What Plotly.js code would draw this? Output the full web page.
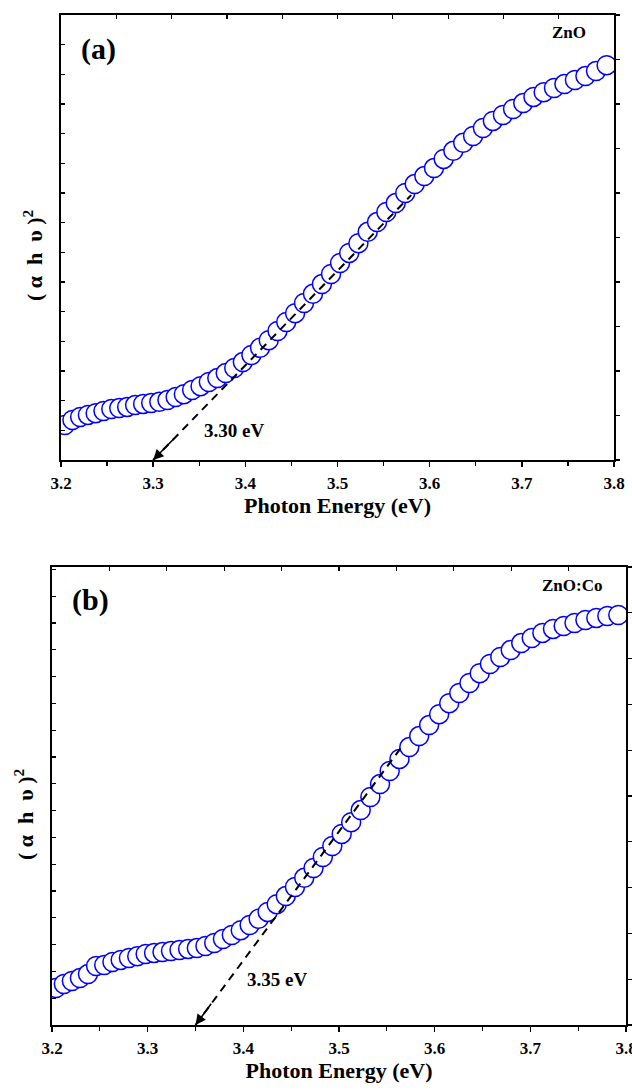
<!DOCTYPE html>
<html>
<head>
<meta charset="utf-8">
<script src="https://cdn.plot.ly/plotly-3.0.1.min.js"></script>
<style>
  html, body { margin: 0; padding: 0; background: #ffffff; }
  #chart { width: 632px; height: 1090px; }
</style>
</head>
<body>
<div id="chart"></div>
<script>
// ---- data ----
const photonEnergy = [3.2041,3.2124,3.2208,3.2292,3.2376,3.2461,3.2546,3.2632,3.2718,3.2804,
  3.2891,3.2979,3.3067,3.3155,3.3244,3.3333,3.3423,3.3514,3.3604,3.3696,
  3.3787,3.3880,3.3973,3.4066,3.4160,3.4254,3.4349,3.4444,3.4540,3.4637,
  3.4734,3.4831,3.4930,3.5028,3.5127,3.5227,3.5328,3.5429,3.5530,3.5632,
  3.5735,3.5838,3.5942,3.6047,3.6152,3.6257,3.6364,3.6471,3.6578,3.6686,
  3.6795,3.6905,3.7015,3.7126,3.7237,3.7349,3.7462,3.7576,3.7690,3.7805,
  3.7920];

const zno = [1.18,1.35,1.45,1.52,1.58,1.65,1.72,1.75,1.79,1.85,
  1.89,1.92,1.96,2.02,2.12,2.22,2.36,2.49,2.63,2.76,
  2.93,3.10,3.30,3.54,3.78,4.04,4.35,4.65,4.95,5.29,
  5.60,5.93,6.27,6.64,6.98,7.31,7.69,8.02,8.36,8.66,
  9.00,9.30,9.57,9.84,10.15,10.42,10.69,10.92,11.19,11.43,
  11.63,11.83,12.03,12.24,12.40,12.54,12.67,12.81,12.94,13.11,
  13.31];

const znoCo = [1.38,1.53,1.64,1.75,1.90,2.20,2.24,2.35,2.43,2.50,
  2.57,2.65,2.69,2.72,2.76,2.80,2.84,2.87,2.95,3.06,
  3.21,3.36,3.54,3.73,3.96,4.22,4.51,4.81,5.15,5.49,
  5.86,6.27,6.68,7.13,7.57,8.02,8.51,8.99,9.48,9.93,
  10.37,10.78,11.19,11.60,12.01,12.39,12.76,13.13,13.47,13.73,
  13.99,14.25,14.44,14.63,14.78,14.89,15.00,15.11,15.19,15.26,
  15.30];

const bandGap = [3.30, 3.35];
const bandGapLabels = ["3.30 eV", "3.35 eV"];
const sampleNames = ["ZnO", "ZnO:Co"];
const panelLetters = ["(a)", "(b)"];

const tangentZnO_x = [3.30, 3.58];
const tangentZnO_y = [0, 8.93];
const tangentCo_x = [3.35, 3.567];
const tangentCo_y = [0, 10.45];

const xTickVals = [3.2, 3.3, 3.4, 3.5, 3.6, 3.7, 3.8];
const xTickText = ["3.2", "3.3", "3.4", "3.5", "3.6", "3.7", "3.8"];

// ---- layout helpers ----
const W = 632, H = 1090;
const px = v => v / W;
const py = v => 1 - v / H;
const FONT = "Liberation Serif, Times New Roman, serif";
const BLUE = "rgb(0,0,255)";

const markerStyle = {symbol: "circle", size: 19, color: "#ffffff", line: {color: BLUE, width: 1.5}};

function tangentTrace(xs, ys, xa, ya) {
  return {x: xs, y: ys, xaxis: xa, yaxis: ya, mode: "lines", hoverinfo: "skip",
    line: {color: "#000000", width: 2, dash: "8px,6px"}, showlegend: false};
}
// empty helper traces so the frame axes (top / right) get drawn
function frameTrace(xa, ya) {
  return {x: [], y: [], xaxis: xa, yaxis: ya, mode: "markers", hoverinfo: "skip", showlegend: false};
}

const traces = [
  {x: photonEnergy, y: zno, xaxis: "x", yaxis: "y", mode: "markers", marker: markerStyle, showlegend: false},
  tangentTrace(tangentZnO_x, tangentZnO_y, "x", "y"),
  {x: photonEnergy, y: znoCo, xaxis: "x2", yaxis: "y2", mode: "markers", marker: markerStyle, showlegend: false},
  tangentTrace(tangentCo_x, tangentCo_y, "x2", "y2"),
  frameTrace("x3", "y"), frameTrace("x", "y3"),
  frameTrace("x4", "y2"), frameTrace("x2", "y4")
];

const tickFont = {family: FONT, size: 17, color: "#000000", weight: "bold"};
const titleFont = {family: FONT, size: 22, color: "#000000", weight: "bold"};

function bottomX(domain, anchor) {
  return {
    domain: domain, anchor: anchor, range: [3.2, 3.8], showgrid: false, zeroline: false,
    showline: true, linecolor: "#000000", linewidth: 2,
    ticks: "outside", tickvals: xTickVals, ticktext: xTickText, ticklen: 5, tickwidth: 1.5, tickcolor: "#000000",
    minor: {ticks: "outside", dtick: 0.05, tick0: 3.2, ticklen: 4, tickwidth: 1.2, tickcolor: "#000000", showgrid: false},
    tickfont: tickFont, ticklabelstandoff: 2, ticklabeloverflow: "allow",
    title: {text: "Photon Energy (eV)", font: titleFont, standoff: 4}
  };
}
function topX(over, anchor) {
  return {overlaying: over, anchor: anchor, side: "top", range: [3.2, 3.8], showgrid: false, zeroline: false,
    showline: true, linecolor: "#000000", linewidth: 2,
    ticks: "inside", tick0: 3.2, dtick: 0.06, ticklen: 4, tickwidth: 1.2, tickcolor: "#000000",
    showticklabels: false};
}
function leftY(domain, anchor, top) {
  return {domain: domain, anchor: anchor, range: [0, top], showgrid: false, zeroline: false,
    showline: true, linecolor: "#000000", linewidth: 2,
    ticks: "inside", tick0: 0, dtick: 1, ticklen: 4, tickwidth: 1.2, tickcolor: "#000000",
    showticklabels: false};
}
function rightY(over, anchor) {
  return {overlaying: over, anchor: anchor, side: "right", range: [0, 10], showgrid: false, zeroline: false,
    showline: true, linecolor: "#000000", linewidth: 2,
    ticks: "outside", tick0: 0, dtick: 1, ticklen: 4, tickwidth: 1.2, tickcolor: "#000000",
    showticklabels: false};
}

function arrowAnn(xs, ys, xa, ya, gap) {
  const f = 0.09;
  return {x: gap, y: 0, xref: xa, yref: ya, axref: xa, ayref: ya,
    ax: xs[0] + f * (xs[1] - xs[0]), ay: ys[0] + f * (ys[1] - ys[0]),
    showarrow: true, arrowhead: 2, arrowsize: 1.3, arrowwidth: 1.6, arrowcolor: "#000000",
    standoff: 0, startstandoff: 0, text: " "};
}
function paperText(text, x, y, size) {
  return {text: text, x: px(x), y: py(y), xref: "paper", yref: "paper", showarrow: false,
    xanchor: "center", yanchor: "middle", font: {family: FONT, size: size, color: "#000000", weight: "bold"}};
}
function yTitle(x, y) {
  return {text: "( \u03b1  h  \u03c5 )<sup>2</sup>", x: px(x), y: py(y), xref: "paper", yref: "paper",
    showarrow: false, textangle: -90, xanchor: "center", yanchor: "middle",
    font: {family: FONT, size: 22, color: "#000000", weight: "bold"}};
}

const layout = {
  width: W, height: H, margin: {l: 0, r: 0, t: 0, b: 0},
  paper_bgcolor: "#ffffff", plot_bgcolor: "#ffffff", showlegend: false,
  xaxis: bottomX([px(61), px(614)], "y"),
  yaxis: leftY([py(460), py(15)], "x", 15),
  xaxis3: topX("x", "y"),
  yaxis3: rightY("y", "x"),
  xaxis2: bottomX([px(52), px(626)], "y2"),
  yaxis2: leftY([py(1025), py(567)], "x2", 17.09),
  xaxis4: topX("x2", "y2"),
  yaxis4: rightY("y2", "x2"),
  annotations: [
    arrowAnn(tangentZnO_x, tangentZnO_y, "x", "y", bandGap[0]),
    arrowAnn(tangentCo_x, tangentCo_y, "x2", "y2", bandGap[1]),
    {text: bandGapLabels[0], x: 3.3877, y: 1.01, xref: "x", yref: "y", showarrow: false,
      font: {family: FONT, size: 19, color: "#000000", weight: "bold"}},
    {text: bandGapLabels[1], x: 3.435, y: 1.68, xref: "x2", yref: "y2", showarrow: false,
      font: {family: FONT, size: 19, color: "#000000", weight: "bold"}},
    paperText(panelLetters[0], 98, 49, 30),
    paperText(sampleNames[0], 569, 33, 17),
    paperText(panelLetters[1], 90, 600, 30),
    paperText(sampleNames[1], 572, 585, 17),
    yTitle(33, 255),
    yTitle(24, 814)
  ]
};

Plotly.newPlot("chart", traces, layout, {staticPlot: true, displayModeBar: false});
</script>
</body>
</html>
